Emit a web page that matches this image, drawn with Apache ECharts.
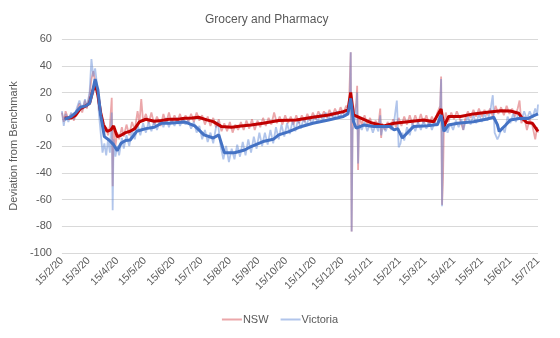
<!DOCTYPE html>
<html><head><meta charset="utf-8">
<script src="https://cdn.jsdelivr.net/npm/echarts@6/dist/echarts.min.js"></script>
<style>html,body{margin:0;padding:0;background:#fff}#c{width:560px;height:338px}</style>
</head><body><div id="c"></div>
<script>
const chartTitle = 'Grocery and Pharmacy';
const yAxisTitle = 'Deviation from Benchmark';
const seriesNames = ['NSW', 'Victoria'];
const yTicks = { min: -100, max: 60, interval: 20 };
const startDate = '2020-02-15';
const endDate = '2021-07-15';

// NSW daily values (estimated)
const nswDaily = [
['2020-02-15',5],['2020-02-17',-2],['2020-02-19',6],['2020-02-22',0],['2020-02-25',4],['2020-02-28',-1],
['2020-03-02',6],['2020-03-05',12],['2020-03-08',5],['2020-03-11',14],['2020-03-13',8],['2020-03-16',18],
['2020-03-18',30],['2020-03-20',36],['2020-03-22',28],['2020-03-24',25],['2020-03-26',10],['2020-03-28',2],
['2020-03-30',-5],['2020-04-01',-10],['2020-04-03',-6],['2020-04-05',-12],['2020-04-07',-5],['2020-04-09',16],
['2020-04-10',-50],['2020-04-11',-8],['2020-04-13',-20],['2020-04-15',-10],['2020-04-17',-15],['2020-04-20',-6],
['2020-04-22',-13],['2020-04-25',-4],['2020-04-28',-12],['2020-05-01',-2],['2020-05-04',-8],['2020-05-07',6],
['2020-05-09',-3],['2020-05-11',15],['2020-05-13',-2],['2020-05-16',4],['2020-05-19',-3],['2020-05-22',5],
['2020-05-25',-4],['2020-05-28',2],['2020-06-01',-5],['2020-06-04',4],['2020-06-07',-3],['2020-06-10',5],
['2020-06-13',-3],['2020-06-16',3],['2020-06-19',-2],['2020-06-22',4],['2020-06-25',-3],['2020-06-28',3],
['2020-07-01',-2],['2020-07-04',4],['2020-07-07',-2],['2020-07-10',5],['2020-07-13',-1],['2020-07-16',3],
['2020-07-19',-4],['2020-07-22',2],['2020-07-25',-5],['2020-07-28',1],['2020-07-31',-6],['2020-08-03',0],
['2020-08-06',-9],['2020-08-09',-3],['2020-08-12',-9],['2020-08-15',-2],['2020-08-18',-10],['2020-08-21',-4],
['2020-08-24',-8],['2020-08-27',-2],['2020-08-30',-8],['2020-09-02',-1],['2020-09-05',-7],['2020-09-08',0],
['2020-09-11',-8],['2020-09-14',-1],['2020-09-17',-6],['2020-09-20',1],['2020-09-23',-5],['2020-09-26',1],
['2020-09-29',-4],['2020-10-02',5],['2020-10-05',-3],['2020-10-08',2],['2020-10-11',-4],['2020-10-14',3],
['2020-10-17',-3],['2020-10-20',2],['2020-10-23',-4],['2020-10-26',3],['2020-10-29',-3],['2020-11-01',3],
['2020-11-04',-2],['2020-11-07',4],['2020-11-10',-1],['2020-11-13',5],['2020-11-16',0],['2020-11-19',6],
['2020-11-22',1],['2020-11-25',6],['2020-11-28',1],['2020-12-01',7],['2020-12-04',2],['2020-12-07',8],
['2020-12-10',3],['2020-12-13',9],['2020-12-16',4],['2020-12-19',10],['2020-12-22',8],['2020-12-24',50],
['2020-12-25',-84],['2020-12-26',-5],['2020-12-28',5],['2020-12-30',12],['2020-12-31',25],['2021-01-01',-38],
['2021-01-02',2],['2021-01-05',-4],['2021-01-08',3],['2021-01-11',-4],['2021-01-14',1],['2021-01-17',-6],
['2021-01-20',-1],['2021-01-23',-5],['2021-01-25',8],['2021-01-26',-14],['2021-01-27',-3],['2021-01-30',-8],
['2021-02-02',-2],['2021-02-05',-7],['2021-02-08',0],['2021-02-11',-6],['2021-02-14',1],['2021-02-17',-5],
['2021-02-20',2],['2021-02-23',-4],['2021-02-26',3],['2021-03-01',-4],['2021-03-04',3],['2021-03-07',-3],
['2021-03-10',4],['2021-03-13',-3],['2021-03-16',3],['2021-03-19',-4],['2021-03-22',2],['2021-03-25',-3],
['2021-03-28',5],['2021-03-31',10],['2021-04-01',32],['2021-04-02',-64],['2021-04-03',-45],['2021-04-04',-5],
['2021-04-06',5],['2021-04-09',-2],['2021-04-12',5],['2021-04-15',0],['2021-04-18',6],['2021-04-21',1],
['2021-04-25',-8],['2021-04-27',0],['2021-04-30',6],['2021-05-03',1],['2021-05-06',7],['2021-05-09',2],
['2021-05-12',8],['2021-05-15',2],['2021-05-18',7],['2021-05-21',3],['2021-05-24',8],['2021-05-27',2],
['2021-05-30',10],['2021-06-02',4],['2021-06-05',9],['2021-06-08',3],['2021-06-11',10],['2021-06-14',4],
['2021-06-17',8],['2021-06-20',2],['2021-06-23',8],['2021-06-25',14],['2021-06-27',-3],['2021-06-30',2],
['2021-07-03',-8],['2021-07-06',0],['2021-07-09',-5],['2021-07-12',-15],['2021-07-14',-6],['2021-07-15',-10]
];

// Victoria daily values (estimated)
const vicDaily = [
['2020-02-15',6],['2020-02-17',-5],['2020-02-19',4],['2020-02-22',-2],['2020-02-25',5],['2020-02-28',0],
['2020-03-02',8],['2020-03-05',14],['2020-03-08',7],['2020-03-11',15],['2020-03-13',9],['2020-03-16',20],
['2020-03-18',45],['2020-03-20',32],['2020-03-22',38],['2020-03-24',26],['2020-03-26',5],['2020-03-28',-10],
['2020-03-30',-25],['2020-04-01',-18],['2020-04-03',-27],['2020-04-05',-15],['2020-04-07',-25],['2020-04-09',5],
['2020-04-10',-68],['2020-04-11',-15],['2020-04-13',-28],['2020-04-15',-20],['2020-04-17',-27],['2020-04-20',-14],
['2020-04-22',-22],['2020-04-25',-12],['2020-04-28',-20],['2020-05-01',-8],['2020-05-04',-15],['2020-05-07',-4],
['2020-05-10',-12],['2020-05-13',-3],['2020-05-16',-10],['2020-05-19',-2],['2020-05-22',-9],['2020-05-25',-1],
['2020-05-28',-8],['2020-06-01',0],['2020-06-04',-6],['2020-06-07',1],['2020-06-10',-6],['2020-06-13',0],
['2020-06-16',-5],['2020-06-19',1],['2020-06-22',-5],['2020-06-25',0],['2020-06-28',-4],['2020-07-01',-1],
['2020-07-04',-7],['2020-07-07',-2],['2020-07-10',-10],['2020-07-13',-5],['2020-07-16',-15],['2020-07-19',-8],
['2020-07-22',-17],['2020-07-25',-10],['2020-07-28',-18],['2020-07-31',-6],['2020-08-02',-2],['2020-08-05',-20],
['2020-08-08',-30],['2020-08-11',-20],['2020-08-14',-32],['2020-08-17',-22],['2020-08-20',-30],['2020-08-23',-19],
['2020-08-26',-28],['2020-08-29',-17],['2020-09-01',-27],['2020-09-04',-15],['2020-09-07',-25],['2020-09-10',-13],
['2020-09-13',-22],['2020-09-16',-10],['2020-09-19',-20],['2020-09-22',-10],['2020-09-25',-19],['2020-09-28',-8],
['2020-10-01',-18],['2020-10-04',-6],['2020-10-07',-15],['2020-10-10',-4],['2020-10-13',-13],['2020-10-16',-3],
['2020-10-19',-11],['2020-10-22',-1],['2020-10-25',-9],['2020-10-28',0],['2020-10-31',-7],['2020-11-03',1],
['2020-11-06',-5],['2020-11-09',2],['2020-11-12',-4],['2020-11-15',3],['2020-11-18',-2],['2020-11-21',4],
['2020-11-24',-1],['2020-11-27',5],['2020-11-30',0],['2020-12-03',5],['2020-12-06',0],['2020-12-09',6],
['2020-12-12',1],['2020-12-15',6],['2020-12-18',2],['2020-12-21',8],['2020-12-23',6],['2020-12-24',50],
['2020-12-25',-84],['2020-12-26',-8],['2020-12-28',-3],['2020-12-30',8],['2020-12-31',20],['2021-01-01',-33],
['2021-01-02',-4],['2021-01-05',-8],['2021-01-08',-2],['2021-01-11',-9],['2021-01-14',-3],['2021-01-17',-10],
['2021-01-20',-4],['2021-01-23',-9],['2021-01-25',3],['2021-01-26',-12],['2021-01-28',-5],['2021-01-31',-9],
['2021-02-03',-3],['2021-02-06',-8],['2021-02-09',-2],['2021-02-12',14],['2021-02-14',-21],['2021-02-16',-18],
['2021-02-18',-10],['2021-02-20',-16],['2021-02-23',-6],['2021-02-26',-12],['2021-03-01',-3],['2021-03-04',-9],
['2021-03-07',-2],['2021-03-10',-8],['2021-03-13',-1],['2021-03-16',-7],['2021-03-19',-1],['2021-03-22',-8],
['2021-03-25',-2],['2021-03-28',-5],['2021-03-31',8],['2021-04-01',30],['2021-04-02',-65],['2021-04-03',-10],
['2021-04-05',-4],['2021-04-08',-10],['2021-04-11',-3],['2021-04-14',-8],['2021-04-17',-1],['2021-04-20',-6],
['2021-04-23',0],['2021-04-25',-8],['2021-04-27',-3],['2021-04-30',2],['2021-05-03',-4],['2021-05-06',3],
['2021-05-09',-3],['2021-05-12',4],['2021-05-15',-2],['2021-05-18',4],['2021-05-21',-1],['2021-05-24',5],
['2021-05-27',18],['2021-05-29',-10],['2021-06-01',-15],['2021-06-03',-12],['2021-06-06',-6],['2021-06-09',-10],
['2021-06-12',2],['2021-06-15',-3],['2021-06-18',4],['2021-06-21',-2],['2021-06-24',5],['2021-06-27',-1],
['2021-06-30',6],['2021-07-03',0],['2021-07-06',6],['2021-07-09',1],['2021-07-12',8],['2021-07-14',3],
['2021-07-15',11]
];

// NSW smoothed (moving average, estimated)
const nswAvg = [
['2020-02-18',1],['2020-02-25',1],['2020-03-01',3],['2020-03-06',8],['2020-03-12',10],['2020-03-16',12],
['2020-03-19',20],['2020-03-22',27],['2020-03-25',18],['2020-03-28',5],['2020-03-31',-4],['2020-04-04',-9],
['2020-04-08',-8],['2020-04-11',-5],['2020-04-15',-13],['2020-04-19',-12],['2020-04-24',-10],['2020-04-29',-9],
['2020-05-04',-7],['2020-05-09',-2],['2020-05-16',0],['2020-05-25',-1.5],['2020-06-02',-1],['2020-06-10',0],
['2020-06-20',0],['2020-06-27',0.7],['2020-07-05',1],['2020-07-12',1.5],['2020-07-21',-0.5],['2020-07-28',-1.8],
['2020-08-06',-5.5],['2020-08-17',-6],['2020-08-27',-5],['2020-09-07',-4.3],['2020-09-20',-3],['2020-10-07',-1],
['2020-10-26',-0.5],['2020-11-13',1.5],['2020-11-30',3.2],['2020-12-16',5.7],['2020-12-21',7],['2020-12-24',20],
['2020-12-27',3.2],['2021-01-04',0.8],['2021-01-15',-2.5],['2021-01-29',-5],['2021-02-09',-3],['2021-02-24',-1.8],
['2021-03-13',-0.5],['2021-03-24',-1.8],['2021-03-28',3],['2021-04-01',7.7],['2021-04-04',-5.5],['2021-04-09',2],
['2021-04-22',2],['2021-05-06',4],['2021-05-21',5.2],['2021-06-05',6.4],['2021-06-15',6.2],['2021-06-24',4.5],
['2021-06-28',0.7],['2021-07-03',-2.5],['2021-07-09',-3],['2021-07-12',-6],['2021-07-15',-9]
];

// Victoria smoothed (moving average, estimated)
const vicAvg = [
['2020-02-18',0],['2020-02-25',2],['2020-03-01',5],['2020-03-06',9],['2020-03-12',10],['2020-03-16',12],
['2020-03-19',20],['2020-03-22',30],['2020-03-25',22],['2020-03-28',3],['2020-04-01',-13],['2020-04-06',-15.5],
['2020-04-11',-19],['2020-04-15',-23.5],['2020-04-19',-18],['2020-04-24',-15.9],['2020-04-29',-15.5],['2020-05-06',-9],
['2020-05-16',-7],['2020-05-25',-6],['2020-06-02',-3],['2020-06-10',-3],['2020-06-27',-2],['2020-07-08',-5],
['2020-07-18',-11.7],['2020-07-28',-14],['2020-08-03',-11.7],['2020-08-09',-25],['2020-08-20',-25],['2020-08-31',-23],
['2020-09-07',-20.4],['2020-09-20',-16.7],['2020-10-01',-15],['2020-10-07',-11.7],['2020-10-18',-9.2],['2020-10-29',-6],
['2020-11-13',-3],['2020-11-30',-0.5],['2020-12-16',2],['2020-12-21',4],['2020-12-24',15.6],['2020-12-27',-1.8],
['2020-12-30',-6.7],['2021-01-07',-4.3],['2021-01-18',-5.5],['2021-02-05',-5.5],['2021-02-09',-8],['2021-02-13',-7],
['2021-02-18',-14],['2021-02-24',-9.7],['2021-03-02',-5.5],['2021-03-17',-4.8],['2021-03-28',-4],['2021-04-01',3.2],
['2021-04-04',-9],['2021-04-09',-4.3],['2021-04-19',-3],['2021-05-06',-1.8],['2021-05-21',0.2],['2021-05-28',1.5],
['2021-06-01',-4],['2021-06-03',-9.2],['2021-06-10',-4.3],['2021-06-15',-0.5],['2021-06-26',0.8],['2021-07-04',0.5],
['2021-07-10',2.5],['2021-07-15',4]
];

// daily category axis
const categories = [];
(function(){
  const s = new Date(startDate + 'T00:00:00Z').getTime();
  const e = new Date(endDate + 'T00:00:00Z').getTime();
  for (let t = s; t <= e; t += 86400000) categories.push(new Date(t).toISOString().slice(0, 10));
})();
function fmt(v){ const p = v.split('-'); return (+p[2]) + '/' + (+p[1]) + '/' + p[0].slice(2); }

const FONT = 'Liberation Sans';
const chart = echarts.init(document.getElementById('c'), null, { renderer: 'canvas' });
chart.setOption({
  animation: false,
  backgroundColor: '#fff',
  title: { text: chartTitle, left: 200, top: 9,
    textStyle: { fontFamily: FONT, fontSize: 12, fontWeight: 'normal', color: '#595959' } },
  legend: { data: seriesNames, left: 'center', top: 309, icon: 'rect', itemWidth: 20, itemHeight: 2, itemGap: 12,
    textStyle: { fontFamily: FONT, fontSize: 11, color: '#595959', padding: [0,0,0,-4] } },
  grid: { left: 60, right: 22, top: 39, bottom: 85 },
  xAxis: { type: 'category', data: categories, boundaryGap: false,
    axisLine: { show: false }, axisTick: { show: false },
    axisLabel: { rotate: 45, fontFamily: FONT, fontSize: 10.5, color: '#595959', margin: 6,
      interval: (i, v) => v.slice(8) === '15', formatter: fmt } },
  yAxis: { type: 'value', min: yTicks.min, max: yTicks.max, interval: yTicks.interval,
    name: yAxisTitle, nameLocation: 'middle', nameGap: 33,
    nameTextStyle: { fontFamily: FONT, fontSize: 11, color: '#595959' },
    axisLine: { show: false }, axisTick: { show: false },
    axisLabel: { fontFamily: FONT, fontSize: 11, color: '#595959', margin: 10 },
    splitLine: { lineStyle: { color: '#d9d9d9', width: 1 } } },
  series: [
    { name: 'NSW', type: 'line', data: nswDaily, showSymbol: false, symbol: 'none',
      itemStyle: { color: 'rgba(215,80,85,0.5)' }, lineStyle: { color: 'rgba(215,80,85,0.5)', width: 1.8 }, z: 1 },
    { name: 'Victoria', type: 'line', data: vicDaily, showSymbol: false, symbol: 'none',
      itemStyle: { color: 'rgba(100,140,215,0.5)' }, lineStyle: { color: 'rgba(100,140,215,0.5)', width: 1.8 }, z: 2 },
    { name: 'NSW avg', type: 'line', data: nswAvg, showSymbol: false, symbol: 'none',
      lineStyle: { color: '#C00000', width: 3 }, z: 3 },
    { name: 'Victoria avg', type: 'line', data: vicAvg, showSymbol: false, symbol: 'none',
      lineStyle: { color: '#4472C4', width: 3 }, z: 4 }
  ]
});
</script></body></html>
